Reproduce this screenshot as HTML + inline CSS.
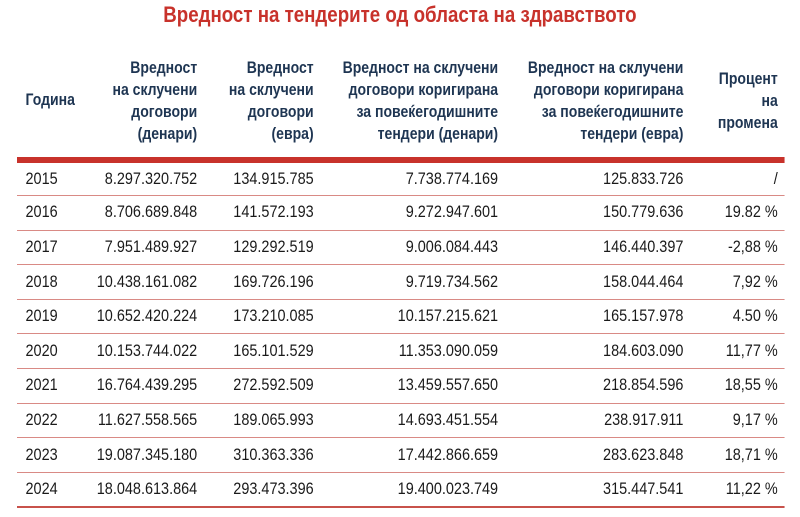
<!DOCTYPE html>
<html><head><meta charset="utf-8"><style>
html,body{margin:0;padding:0;background:#fff;width:800px;height:517px;overflow:hidden}
#w{position:absolute;left:0;top:0;width:941px;height:517px;transform:scaleX(0.85);transform-origin:0 0;font-family:"Liberation Sans",sans-serif}
.t{position:absolute;white-space:nowrap}
.title{left:0;width:941px;text-align:center;top:2px;font-size:22px;font-weight:bold;color:#c8322b}
.h{font-weight:bold;color:#1e3552;font-size:16.5px;line-height:22px;text-align:right}
.c{font-size:17px;color:#1a1a1a;text-align:right;line-height:20px}
.y{font-size:17px;color:#1a1a1a;line-height:20px}
.ln{position:absolute;left:20px;width:903px;height:1px;background:#d98a85}
</style></head><body><div id="w">
<div class="t title">Вредност на тендерите од областа на здравството</div>
<div class="t h" style="left:30px;top:89px;text-align:left">Година</div>
<div class="t h" style="right:709px;top:57px">Вредност<br>на склучени<br>договори<br>(денари)</div>
<div class="t h" style="right:572px;top:57px">Вредност<br>на склучени<br>договори<br>(евра)</div>
<div class="t h" style="right:355px;top:57px">Вредност на склучени<br>договори коригирана<br>за повеќегодишните<br>тендери (денари)</div>
<div class="t h" style="right:137px;top:57px">Вредност на склучени<br>договори коригирана<br>за повеќегодишните<br>тендери (евра)</div>
<div class="t h" style="right:26px;top:68px">Процент<br>на<br>промена</div>
<div style="position:absolute;left:20px;width:903px;top:157px;height:6px;background:#c8322b"></div>
<div id="rows"></div>
</div>
<script>
(function(){
var d=[["2015","8.297.320.752","134.915.785","7.738.774.169","125.833.726","/"],
["2016","8.706.689.848","141.572.193","9.272.947.601","150.779.636","19.82 %"],
["2017","7.951.489.927","129.292.519","9.006.084.443","146.440.397","-2,88 %"],
["2018","10.438.161.082","169.726.196","9.719.734.562","158.044.464","7,92 %"],
["2019","10.652.420.224","173.210.085","10.157.215.621","165.157.978","4.50 %"],
["2020","10.153.744.022","165.101.529","11.353.090.059","184.603.090","11,77 %"],
["2021","16.764.439.295","272.592.509","13.459.557.650","218.854.596","18,55 %"],
["2022","11.627.558.565","189.065.993","14.693.451.554","238.917.911","9,17 %"],
["2023","19.087.345.180","310.363.336","17.442.866.659","283.623.848","18,71 %"],
["2024","18.048.613.864","293.473.396","19.400.023.749","315.447.541","11,22 %"]];
var R=[709,572,355,137,26],h="";
for(var i=0;i<10;i++){var cy=(i==0?179:195+17.3+34.6*(i-1)),tp=(cy-10).toFixed(1);
h+='<div class="t y" style="left:30px;top:'+tp+'px">'+d[i][0]+'</div>';
for(var j=1;j<6;j++)h+='<div class="t c" style="right:'+R[j-1]+'px;top:'+tp+'px">'+d[i][j]+'</div>';
var ly=(195+34.6*i).toFixed(1);h+='<div class="ln" style="top:'+ly+'px;'+(i==9?'height:2px;background:#c8524b':'')+'"></div>';}
document.getElementById('rows').innerHTML=h;
})();
</script>
</body></html>
